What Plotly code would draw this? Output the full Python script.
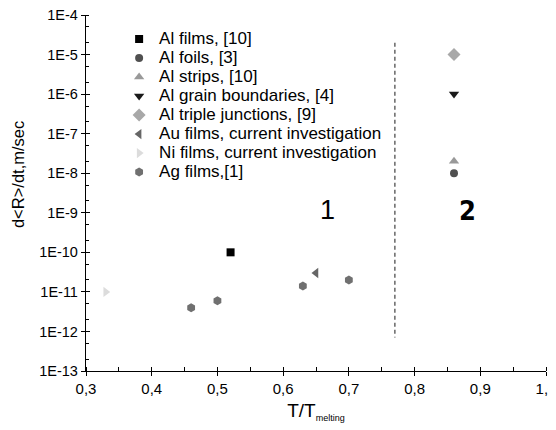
import plotly.graph_objects as go

# ---- data ----
al_films_x = [0.52];  al_films_y = [1e-10]
al_foils_x = [0.86];  al_foils_y = [1e-8]
al_strips_x = [0.86]; al_strips_y = [2e-8]
al_gb_x = [0.86];     al_gb_y = [1e-6]
al_tj_x = [0.86];     al_tj_y = [1e-5]
au_x = [0.65];        au_y = [3e-11]
ni_x = [0.33];        ni_y = [1e-11]
ag_x = [0.46, 0.50, 0.63, 0.70]
ag_y = [4e-12, 6e-12, 1.4e-11, 2e-11]

divider_x = [0.77, 0.77]
divider_y = [2e-5, 7e-13]

x_ticks = [0.3, 0.4, 0.5, 0.6, 0.7, 0.8, 0.9, 1.0]
x_ticklabels = ["0,3", "0,4", "0,5", "0,6", "0,7", "0,8", "0,9", "1,0"]
y_ticks = [1e-13, 1e-12, 1e-11, 1e-10, 1e-9, 1e-8, 1e-7, 1e-6, 1e-5, 1e-4]
y_ticklabels = ["1E-13", "1E-12", "1E-11", "1E-10", "1E-9", "1E-8", "1E-7", "1E-6", "1E-5", "1E-4"]

series = [
    ("Al films, [10]", al_films_x, al_films_y, "square", "#000000", 8),
    ("Al foils, [3]", al_foils_x, al_foils_y, "circle", "#505050", 8),
    ("Al strips, [10]", al_strips_x, al_strips_y, "triangle-up", "#999999", 9),
    ("Al grain boundaries, [4]", al_gb_x, al_gb_y, "triangle-down", "#1a1a1a", 9),
    ("Al triple junctions, [9]", al_tj_x, al_tj_y, "diamond", "#a8a8a8", 10),
    ("Au films, current investigation", au_x, au_y, "triangle-left", "#666666", 9),
    ("Ni films, current investigation", ni_x, ni_y, "triangle-right", "#dcdcdc", 9),
    ("Ag films,[1]", ag_x, ag_y, "hexagon", "#707070", 9),
]

font = "Liberation Sans"

fig = go.Figure()
for name, xs, ys, sym, col, sz in series:
    fig.add_trace(go.Scatter(x=xs, y=ys, mode="markers",
                             name='<span style="font-size:17px">' + name + '</span>',
                             marker=dict(symbol=sym, color=col, size=sz, line=dict(width=0))))

fig.add_trace(go.Scatter(x=divider_x, y=divider_y, mode="lines", showlegend=False,
                         line=dict(color="#666666", width=1.5, dash="4px,3px"), hoverinfo="skip"))

fig.update_layout(
    width=556, height=430,
    margin=dict(l=78, r=18, t=7, b=67, autoexpand=False),
    plot_bgcolor="white", paper_bgcolor="white",
    font=dict(family=font, size=15, color="black"),
    showlegend=True,
    legend=dict(x=0.072, y=0.973, xanchor="left", yanchor="top",
                font=dict(family=font, size=12, color="black"),
                bgcolor="rgba(0,0,0,0)", tracegroupgap=0),
    xaxis=dict(range=[0.3, 1.0], tickvals=x_ticks, ticktext=x_ticklabels, automargin=False,
               ticklabeloverflow="allow",
               showline=True, linecolor="black", linewidth=1.3, mirror=False,
               ticks="outside", ticklen=4, tickcolor="black", tickwidth=1.3,
               tickfont=dict(family=font, size=15),
               showgrid=False, zeroline=False,
               minor=dict(ticks="inside", ticklen=4, dtick=0.05, tickcolor="black", tickwidth=1.3, showgrid=False),
               title=dict(text='T/T<sub><span style="font-size:9px">melting</span></sub>',
                          font=dict(family=font, size=19), standoff=7)),
    yaxis=dict(type="log", range=[-13, -4], tickvals=y_ticks, ticktext=y_ticklabels, automargin=False,
               ticklabeloverflow="allow",
               showline=True, linecolor="black", linewidth=1.3,
               ticks="outside", ticklen=4, tickcolor="black", tickwidth=1.3,
               tickfont=dict(family=font, size=14.5),
               showgrid=False, zeroline=False,
               minor=dict(ticks="inside", ticklen=3, tickcolor="black", tickwidth=1, showgrid=False)),
    xaxis2=dict(overlaying="x", range=[0.3, 1.0], tickvals=x_ticks, showticklabels=False, automargin=False,
                ticks="inside", ticklen=4, tickcolor="black", tickwidth=1.3, showgrid=False,
                zeroline=False, showline=False, side="bottom", matches="x"),
    yaxis2=dict(overlaying="y", type="log", range=[-13, -4], tickvals=y_ticks, showticklabels=False,
                automargin=False,
                ticks="inside", ticklen=4, tickcolor="black", tickwidth=1.3, showgrid=False,
                zeroline=False, showline=False, side="left"),
)
# dummy trace to activate the overlay axes
fig.add_trace(go.Scatter(x=[None], y=[None], xaxis="x2", yaxis="y2", showlegend=False, hoverinfo="skip"))

# y-axis title (placed as annotation to match its offset position)
fig.add_annotation(x=-0.148, y=0.553, xref="paper", yref="paper", text="d&lt;R&gt;/dt,m/sec",
                   textangle=-90, showarrow=False, xanchor="center", yanchor="middle",
                   font=dict(family=font, size=16.5, color="black"))

fig.add_annotation(x=0.667, y=-8.93, xref="x", yref="y", text="1", showarrow=False,
                   font=dict(family=font, size=27, color="black"))
fig.add_annotation(x=0.881, y=-8.93, xref="x", yref="y", text="<b>2</b>", showarrow=False,
                   font=dict(family="Liberation Sans Narrow, DejaVu Sans Condensed", size=27, color="black"))

fig.write_html("out.html")
